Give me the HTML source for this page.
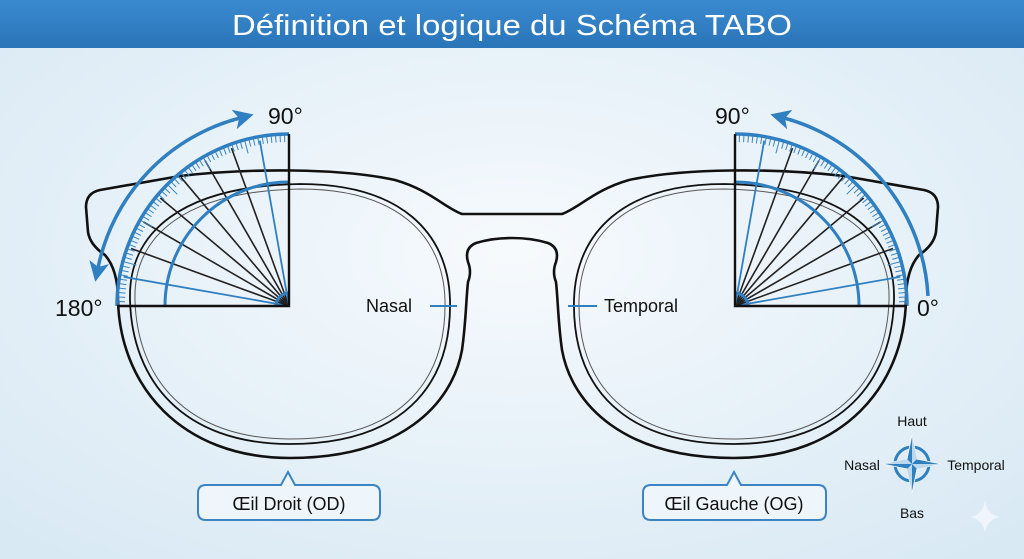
<!DOCTYPE html>
<html><head><meta charset="utf-8"><style>
html,body{margin:0;padding:0;width:1024px;height:559px;overflow:hidden;background:#e6f1f9}
svg{display:block}
text{font-family:"Liberation Sans",sans-serif}
</style></head><body>
<svg id="s" width="1024" height="559" viewBox="0 0 1024 559" xmlns="http://www.w3.org/2000/svg">
<defs>
<radialGradient id="bg" cx="50%" cy="45%" r="70%"><stop offset="0" stop-color="#f6fafd"/><stop offset="1" stop-color="#d9e9f4"/></radialGradient>
<linearGradient id="tb" x1="0" y1="0" x2="0" y2="1"><stop offset="0" stop-color="#3a8ad0"/><stop offset="1" stop-color="#2a74b8"/></linearGradient>
<marker id="ah" markerWidth="20" markerHeight="20" refX="6" refY="10" orient="auto-start-reverse" markerUnits="userSpaceOnUse" viewBox="0 0 20 20"><path d="M0,0 L20,10 L0,20 L5,10 Z" fill="#2f7fc1"/></marker>
</defs>
<rect width="1024" height="559" fill="url(#bg)"/>
<rect width="1024" height="48" fill="url(#tb)"/>
<text x="512" y="35" font-size="29" fill="#fff" text-anchor="middle" textLength="560" lengthAdjust="spacingAndGlyphs">Définition et logique du Schéma TABO</text>

<g id="frame" fill="none" stroke="#111" stroke-width="2.6">
<path id="L1" d="M512,214 L462,214 C445,208 430,190 395,180 C340,168 250,168 180,176 L100,190 Q86,193 86,207 L88,232 Q90,245 105,255 Q118,270 118,300 C120,385 180,458 290,458 C400,458 452,405 462,350 C466,322 466,300 468,282 Q472,272 468,262 Q464,248 476,243 Q492,238 512,238"/>
<path id="L2" stroke-width="1.8" d="M300,184 C400,184 448,232 450,300 C452,390 398,444 290,444 C182,444 132,380 130,300 C128,232 182,186 300,184 Z"/>
<path id="L3" stroke-width="1" stroke="#555" d="M300,189 C396,189 443,234 445,300 C447,386 395,439 290,439 C186,439 137,378 135,300 C133,235 186,191 300,189 Z"/>
<use href="#L1" transform="translate(1024,0) scale(-1,1)"/>
<use href="#L2" transform="translate(1024,0) scale(-1,1)"/>
<use href="#L3" transform="translate(1024,0) scale(-1,1)"/>
</g>
<g id="prot"></g>

<path d="M98,268 A195,195 0 0 1 240,118" fill="none" stroke="#2f7fc1" stroke-width="3.5" marker-start="url(#ah)" marker-end="url(#ah)"/>
<path d="M928,296 A195,195 0 0 0 784,118" fill="none" stroke="#2f7fc1" stroke-width="3.5" marker-end="url(#ah)"/>

<g font-size="23" fill="#111">
<text x="268" y="124">90°</text>
<text x="715" y="124">90°</text>
<text x="55" y="316">180°</text>
<text x="917" y="316">0°</text>
</g>
<g font-size="18" fill="#111">
<text x="366" y="312">Nasal</text>
<text x="604" y="312">Temporal</text>
</g>
<line x1="430" y1="306" x2="457" y2="306" stroke="#2f7fc1" stroke-width="2"/>
<line x1="568" y1="306" x2="597" y2="306" stroke="#2f7fc1" stroke-width="2"/>

<path d="M206,485 L281,485 L288,472 L295,485 L372,485 Q380,485 380,493 L380,512 Q380,520 372,520 L206,520 Q198,520 198,512 L198,493 Q198,485 206,485 Z" fill="#eef5fb" stroke="#3a84c4" stroke-width="2"/>
<text x="289" y="510" font-size="18" fill="#111" text-anchor="middle">Œil Droit (OD)</text>
<path d="M651,485 L727,485 L734,472 L741,485 L818,485 Q826,485 826,493 L826,512 Q826,520 818,520 L651,520 Q643,520 643,512 L643,493 Q643,485 651,485 Z" fill="#eef5fb" stroke="#3a84c4" stroke-width="2"/>
<text x="734" y="510" font-size="18" fill="#111" text-anchor="middle">Œil Gauche (OG)</text>

<g transform="translate(912,464)">
<circle r="17" fill="none" stroke="#2f7fc1" stroke-width="3"/>
<path d="M0,-29 L5,-5 L29,0 L5,5 L0,29 L-5,5 L-29,0 L-5,-5 Z" fill="#2f7fc1" stroke="#fff" stroke-width="0.8"/>
<path d="M0,-29 L5,-5 L0,0 Z M29,0 L5,5 L0,0 Z M0,29 L-5,5 L0,0 Z M-29,0 L-5,-5 L0,0 Z" fill="#bcd8ee"/>
</g>
<g font-size="14" fill="#111" text-anchor="middle">
<text x="912" y="426">Haut</text>
<text x="912" y="518">Bas</text>
<text x="862" y="470">Nasal</text>
<text x="976" y="470">Temporal</text>
</g>
<path d="M985,500 Q987,515 1000,517 Q987,519 985,533 Q983,519 970,517 Q983,515 985,500 Z" fill="#f4f8fb" opacity="0.8"/>
</svg>
<script>
(function(){
var g=document.getElementById('prot'),h='';
function side(cx,dir){
 var cy=306,R=172;
 function p(a,r){var t=a*Math.PI/180;return [cx-dir*r*Math.cos(t),cy-r*Math.sin(t)];}
 for(var a=10;a<=80;a+=10){var q=p(a,R-4),b=(a==10||a==80);
  h+='<line x1="'+cx+'" y1="'+cy+'" x2="'+q[0].toFixed(1)+'" y2="'+q[1].toFixed(1)+'" stroke="'+(b?'#2f7fc1':'#222')+'" stroke-width="'+(b?1.8:1.6)+'"/>';}
 for(var a=0;a<=90;a+=1.5){var l=(Math.round(a)%15==0)?14:8,q1=p(a,R),q2=p(a,R-l);
  h+='<line x1="'+q1[0].toFixed(1)+'" y1="'+q1[1].toFixed(1)+'" x2="'+q2[0].toFixed(1)+'" y2="'+q2[1].toFixed(1)+'" stroke="#3a84c4" stroke-width="1"/>';}
 var o1=p(0,R),o2=p(90,R),i1=p(0,124),i2=p(90,124),s1=p(0,13),s2=p(90,13);
 var f=dir>0?1:0;
 h+='<path d="M'+o1+' A'+R+','+R+' 0 0 '+f+' '+o2+'" fill="none" stroke="#2f7fc1" stroke-width="3.5"/>';
 h+='<path d="M'+i1+' A124,124 0 0 '+f+' '+i2+'" fill="none" stroke="#2f7fc1" stroke-width="3"/>';
 h+='<path d="M'+s1+' A13,13 0 0 '+f+' '+s2+'" fill="none" stroke="#2f7fc1" stroke-width="3"/>';
 h+='<path d="M'+o1+' L'+cx+','+cy+' L'+o2+'" fill="none" stroke="#111" stroke-width="2.4"/>';
}
side(289,1);side(735,-1);
g.innerHTML=h;
})();
</script>
</body></html>
